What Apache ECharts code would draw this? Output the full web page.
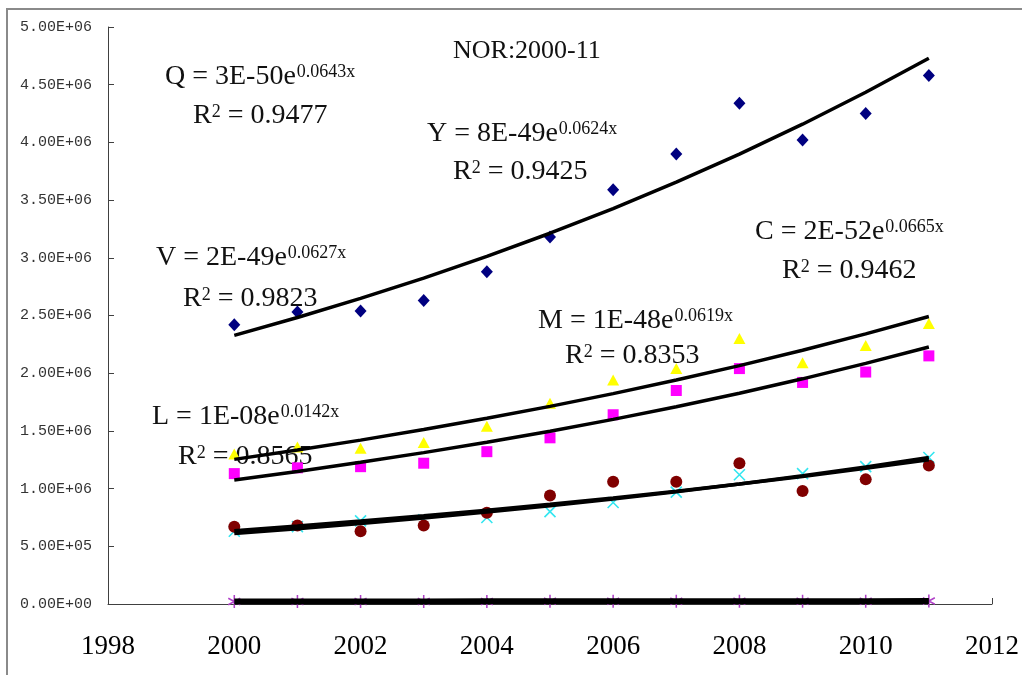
<!DOCTYPE html>
<html>
<head>
<meta charset="utf-8">
<script src="https://cdn.jsdelivr.net/npm/echarts@6/dist/echarts.min.js"></script>
<style>
html,body{margin:0;padding:0;background:#fff;}
#chart{width:1022px;height:675px;}
</style>
</head>
<body>
<div id="chart"></div>
<script>
// ---------------- data ----------------
const years = [2000, 2001, 2002, 2003, 2004, 2005, 2006, 2007, 2008, 2009, 2010, 2011];
const valuesQ = [2.42e6, 2.53e6, 2.54e6, 2.63e6, 2.88e6, 3.18e6, 3.59e6, 3.90e6, 4.34e6, 4.02e6, 4.25e6, 4.58e6];
const valuesY = [1.30e6, 1.36e6, 1.35e6, 1.40e6, 1.54e6, 1.74e6, 1.94e6, 2.04e6, 2.30e6, 2.09e6, 2.24e6, 2.43e6];
const valuesC = [1.13e6, 1.18e6, 1.19e6, 1.22e6, 1.32e6, 1.44e6, 1.64e6, 1.85e6, 2.04e6, 1.92e6, 2.01e6, 2.15e6];
const valuesM = [0.67e6, 0.68e6, 0.63e6, 0.68e6, 0.79e6, 0.94e6, 1.06e6, 1.06e6, 1.22e6, 0.98e6, 1.08e6, 1.20e6];
const valuesV = [0.63e6, 0.67e6, 0.72e6, 0.73e6, 0.75e6, 0.80e6, 0.88e6, 0.97e6, 1.12e6, 1.13e6, 1.19e6, 1.27e6];
const valuesL = [21500, 22100, 21900, 22600, 22400, 23200, 23400, 23900, 24100, 24600, 24700, 25300];
const xTickLabels = ['1998', '2000', '2002', '2004', '2006', '2008', '2010', '2012'];
const yTickLabels = ['0.00E+00', '5.00E+05', '1.00E+06', '1.50E+06', '2.00E+06', '2.50E+06',
                     '3.00E+06', '3.50E+06', '4.00E+06', '4.50E+06', '5.00E+06'];
const titleText = 'NOR:2000-11';
const eqNames = ['Q', 'V', 'L', 'Y', 'M', 'C'];
const eqCoef = ['3E-50', '2E-49', '1E-08', '8E-49', '1E-48', '2E-52'];
const eqExp = ['0.0643x', '0.0627x', '0.0142x', '0.0624x', '0.0619x', '0.0665x'];
const eqR2 = ['0.9477', '0.9823', '0.8565', '0.9425', '0.8353', '0.9462'];

// ---------------- helpers ----------------
function pairs(ys) { return years.map((x, i) => [x, ys[i]]); }
// exponential least-squares trendline (as the spreadsheet does)
function expTrend(ys) {
  const n = years.length;
  let sx = 0, sy = 0, sxx = 0, sxy = 0;
  for (let i = 0; i < n; i++) {
    const x = years[i] - 2000, ly = Math.log(ys[i]);
    sx += x; sy += ly; sxx += x * x; sxy += x * ly;
  }
  const b = (n * sxy - sx * sy) / (n * sxx - sx * sx);
  const a = (sy - b * sx) / n;
  return years.map(x => [x, Math.exp(a + b * (x - 2000))]);
}

const ctx = document.createElement('canvas').getContext('2d');
function textWidth(str, font) { ctx.font = font; return ctx.measureText(str).width; }

const SERIF = "'Liberation Serif', 'Times New Roman', serif";
const mainFont = '28px ' + SERIF;
const supFont = '18px ' + SERIF;

// layout of the annotation blocks: [left of first line, cap-top of first line, left of R line, cap-top of R line]
const eqLayout = {
  Q: [165, 68, 193, 107],
  V: [156, 249, 183, 290],
  L: [152, 408, 178, 448],
  Y: [427, 125, 453, 163],
  M: [538, 312, 565, 347],
  C: [755, 223, 782, 262]
};

const graphics = [];
graphics.push({
  type: 'rect', z: -10, silent: true,
  shape: { x: 7, y: 9, width: 1100, height: 800 },
  style: { fill: 'none', stroke: '#8a8a8a', lineWidth: 2 }
});
function addText(str, x, capTop, font, size) {
  graphics.push({
    type: 'text', z: 0, silent: true, x: x, y: capTop - 0.175 * size,
    style: { text: str, font: font, fill: '#111', align: 'left', verticalAlign: 'top' }
  });
}
addText(titleText, 453, 43, '26px ' + SERIF, 26);
eqNames.forEach((nm, i) => {
  const L = eqLayout[nm];
  const line1 = nm + ' = ' + eqCoef[i] + 'e';
  addText(line1, L[0], L[1], mainFont, 28);
  addText(eqExp[i], L[0] + textWidth(line1, mainFont) + 1, L[1] - 2, supFont, 18);
  addText('R', L[2], L[3], mainFont, 28);
  const rw = textWidth('R', mainFont);
  addText('2', L[2] + rw, L[3] - 1, supFont, 18);
  addText(' = ' + eqR2[i], L[2] + rw + textWidth('2', supFont), L[3], mainFont, 28);
});

// ---------------- chart ----------------
const chart = echarts.init(document.getElementById('chart'), null, { renderer: 'canvas' });
const axisColor = '#404040';

function scatter(name, ys, symbol, size, color, stroke) {
  return {
    name: name, type: 'scatter', data: pairs(ys), symbol: symbol, symbolSize: size, z: 2,
    itemStyle: stroke ? { color: 'rgba(0,0,0,0)', borderColor: color, borderWidth: 1.6, opacity: 1 }
                      : { color: color, opacity: 1 }
  };
}
function trend(name, ys, w) {
  return {
    name: name + ' trend', type: 'line', data: expTrend(ys), showSymbol: false, symbol: 'none',
    z: 4, lineStyle: { color: '#000', width: w }, silent: true
  };
}

const option = {
  animation: false,
  backgroundColor: '#fff',
  grid: { left: 108, right: 26, top: 27, bottom: 71, containLabel: false },
  xAxis: {
    type: 'value', min: 1998, max: 2012, interval: 2,
    axisLine: { show: true, onZero: false, lineStyle: { color: axisColor, width: 1 } },
    axisTick: { show: true, inside: true, length: 6, lineStyle: { color: axisColor } },
    splitLine: { show: false },
    axisLabel: {
      margin: 29, color: '#000', fontFamily: 'Liberation Serif', fontSize: 27,
      formatter: v => xTickLabels[Math.round((v - 1998) / 2)]
    }
  },
  yAxis: {
    type: 'value', min: 0, max: 5e6, interval: 5e5,
    axisLine: { show: true, lineStyle: { color: axisColor, width: 1 } },
    axisTick: { show: true, inside: true, length: 6, lineStyle: { color: axisColor } },
    splitLine: { show: false },
    axisLabel: {
      margin: 16, color: '#333', fontFamily: 'Liberation Mono', fontSize: 15,
      formatter: v => yTickLabels[Math.round(v / 5e5)]
    }
  },
  graphic: graphics,
  series: [
    scatter('Q', valuesQ, 'diamond', [12, 13], '#000080'),
    scatter('Y', valuesY, 'triangle', [12, 11], '#ffff00'),
    scatter('C', valuesC, 'rect', [11, 11], '#ff00ff'),
    scatter('V', valuesV, 'path://M0,0L10,10M10,0L0,10', [11, 11], '#33e6f0', true),
    scatter('M', valuesM, 'circle', 12, '#800000'),
    scatter('L', valuesL, 'path://M5,0L5,10M0.5,2.5L9.5,7.5M0.5,7.5L9.5,2.5', [12, 13], '#b040c8', true),
    trend('Q', valuesQ, 3.5),
    trend('Y', valuesY, 3.5),
    trend('C', valuesC, 3.5),
    trend('M', valuesM, 3.5),
    trend('V', valuesV, 3.5),
    trend('L', valuesL, 6)
  ]
};
chart.setOption(option);
</script>
</body>
</html>
